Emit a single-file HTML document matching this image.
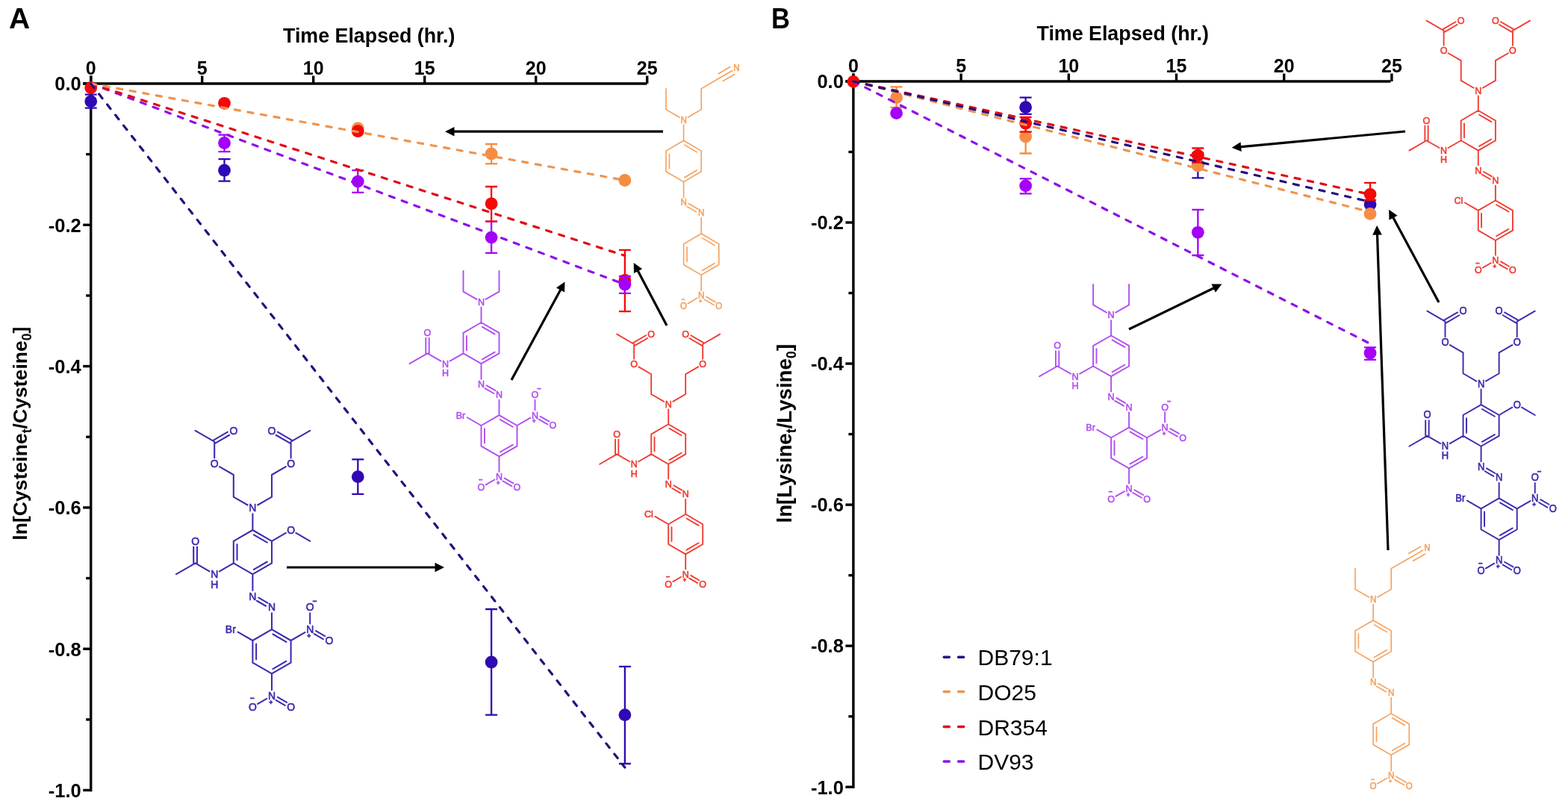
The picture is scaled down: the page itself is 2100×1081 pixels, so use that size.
<!DOCTYPE html><html><head><meta charset="utf-8"><style>html,body{margin:0;padding:0;background:#fff;}svg{display:block;}</style></head><body><svg width="2100" height="1081" viewBox="0 0 2100 1081" font-family='"Liberation Sans", Arial, sans-serif'>
<rect width="2100" height="1081" fill="#fff"/>
<text x="12" y="38" font-size="39" font-weight="bold">A</text>
<text transform="translate(1032.9,38) scale(0.91,1)" font-size="38" font-weight="bold">B</text>
<text x="494.2" y="56.7" font-size="26.8" font-weight="bold" text-anchor="middle">Time Elapsed (hr.)</text>
<text x="1503.7" y="53.7" font-size="26.8" font-weight="bold" text-anchor="middle">Time Elapsed (hr.)</text>
<line x1="111.2" y1="112" x2="866.5" y2="112" stroke="#000" stroke-width="3.4"/>
<line x1="121.7" y1="101.5" x2="121.7" y2="1060.2" stroke="#000" stroke-width="3.4"/>
<line x1="121.7" y1="101.5" x2="121.7" y2="112" stroke="#000" stroke-width="3.4"/>
<text x="121.7" y="99.5" font-size="25" font-weight="bold" text-anchor="middle">0</text>
<line x1="270.7" y1="101.5" x2="270.7" y2="112" stroke="#000" stroke-width="3.4"/>
<text x="270.7" y="99.5" font-size="25" font-weight="bold" text-anchor="middle">5</text>
<line x1="419.7" y1="101.5" x2="419.7" y2="112" stroke="#000" stroke-width="3.4"/>
<text x="419.7" y="99.5" font-size="25" font-weight="bold" text-anchor="middle">10</text>
<line x1="568.7" y1="101.5" x2="568.7" y2="112" stroke="#000" stroke-width="3.4"/>
<text x="568.7" y="99.5" font-size="25" font-weight="bold" text-anchor="middle">15</text>
<line x1="717.7" y1="101.5" x2="717.7" y2="112" stroke="#000" stroke-width="3.4"/>
<text x="717.7" y="99.5" font-size="25" font-weight="bold" text-anchor="middle">20</text>
<line x1="866.7" y1="101.5" x2="866.7" y2="112" stroke="#000" stroke-width="3.4"/>
<text x="866.7" y="99.5" font-size="25" font-weight="bold" text-anchor="middle">25</text>
<line x1="111.2" y1="112" x2="121.7" y2="112" stroke="#000" stroke-width="3.4"/>
<text x="108.7" y="121.3" font-size="25.5" font-weight="bold" text-anchor="end">0.0</text>
<line x1="115.2" y1="206.65" x2="121.7" y2="206.65" stroke="#000" stroke-width="3.4"/>
<line x1="111.2" y1="301.3" x2="121.7" y2="301.3" stroke="#000" stroke-width="3.4"/>
<text x="108.7" y="310.6" font-size="25.5" font-weight="bold" text-anchor="end">-0.2</text>
<line x1="115.2" y1="395.95" x2="121.7" y2="395.95" stroke="#000" stroke-width="3.4"/>
<line x1="111.2" y1="490.6" x2="121.7" y2="490.6" stroke="#000" stroke-width="3.4"/>
<text x="108.7" y="499.9" font-size="25.5" font-weight="bold" text-anchor="end">-0.4</text>
<line x1="115.2" y1="585.25" x2="121.7" y2="585.25" stroke="#000" stroke-width="3.4"/>
<line x1="111.2" y1="679.9" x2="121.7" y2="679.9" stroke="#000" stroke-width="3.4"/>
<text x="108.7" y="689.2" font-size="25.5" font-weight="bold" text-anchor="end">-0.6</text>
<line x1="115.2" y1="774.55" x2="121.7" y2="774.55" stroke="#000" stroke-width="3.4"/>
<line x1="111.2" y1="869.2" x2="121.7" y2="869.2" stroke="#000" stroke-width="3.4"/>
<text x="108.7" y="878.5" font-size="25.5" font-weight="bold" text-anchor="end">-0.8</text>
<line x1="115.2" y1="963.85" x2="121.7" y2="963.85" stroke="#000" stroke-width="3.4"/>
<line x1="111.2" y1="1058.5" x2="121.7" y2="1058.5" stroke="#000" stroke-width="3.4"/>
<text x="108.7" y="1067.8" font-size="25.5" font-weight="bold" text-anchor="end">-1.0</text>
<text transform="translate(36,580.6) rotate(-90)" font-size="26.6" font-weight="bold" text-anchor="middle">ln[Cysteine<tspan font-size="17.56" dy="6.12">t</tspan><tspan dy="-6.12">/Cysteine</tspan><tspan font-size="17.56" dy="6.12">0</tspan><tspan dy="-6.12">]</tspan></text>
<path d="M121.7 126.6V144.6M113.7 126.6H129.7M113.7 144.6H129.7" stroke="#3008b4" stroke-width="2.3" fill="none"/>
<circle cx="121.7" cy="135.8" r="8.4" fill="#3008b4"/>
<path d="M300.5 213.1V242.6M292.5 213.1H308.5M292.5 242.6H308.5" stroke="#3008b4" stroke-width="2.3" fill="none"/>
<circle cx="300.5" cy="228.2" r="8.4" fill="#3008b4"/>
<path d="M479.3 615.3V661.9M471.3 615.3H487.3M471.3 661.9H487.3" stroke="#3008b4" stroke-width="2.3" fill="none"/>
<circle cx="479.3" cy="638.6" r="8.4" fill="#3008b4"/>
<path d="M658.1 816V957.6M650.1 816H666.1M650.1 957.6H666.1" stroke="#3008b4" stroke-width="2.3" fill="none"/>
<circle cx="658.1" cy="887" r="8.4" fill="#3008b4"/>
<path d="M836.9 892.9V1023M828.9 892.9H844.9M828.9 1023H844.9" stroke="#3008b4" stroke-width="2.3" fill="none"/>
<circle cx="836.9" cy="957.6" r="8.4" fill="#3008b4"/>
<circle cx="479.3" cy="172" r="8.4" fill="#f58c42"/>
<path d="M658.1 193V219.3M650.1 193H666.1M650.1 219.3H666.1" stroke="#f58c42" stroke-width="2.3" fill="none"/>
<circle cx="658.1" cy="206" r="8.4" fill="#f58c42"/>
<circle cx="836.9" cy="241.5" r="8.4" fill="#f58c42"/>
<path d="M300.5 180.7V203.2M292.5 180.7H308.5M292.5 203.2H308.5" stroke="#a400fa" stroke-width="2.3" fill="none"/>
<circle cx="300.5" cy="191.5" r="8.4" fill="#a400fa"/>
<path d="M479.3 228.2V257.8M471.3 228.2H487.3M471.3 257.8H487.3" stroke="#a400fa" stroke-width="2.3" fill="none"/>
<circle cx="479.3" cy="243.1" r="8.4" fill="#a400fa"/>
<path d="M658.1 296.6V338.8M650.1 296.6H666.1M650.1 338.8H666.1" stroke="#a400fa" stroke-width="2.3" fill="none"/>
<circle cx="658.1" cy="318.1" r="8.4" fill="#a400fa"/>
<circle cx="121.7" cy="117.5" r="8.4" fill="#f50808"/>
<circle cx="300.5" cy="138.3" r="8.4" fill="#f50808"/>
<circle cx="479.3" cy="175.7" r="8.4" fill="#f50808"/>
<path d="M658.1 250V296.6M650.1 250H666.1M650.1 296.6H666.1" stroke="#f50808" stroke-width="2.3" fill="none"/>
<circle cx="658.1" cy="272.8" r="8.4" fill="#f50808"/>
<path d="M836.9 334.8V417.2M828.9 334.8H844.9M828.9 417.2H844.9" stroke="#f50808" stroke-width="2.3" fill="none"/>
<circle cx="836.9" cy="375.4" r="8.4" fill="#f50808"/>
<path d="M836.9 370V392.8M828.9 370H844.9M828.9 392.8H844.9" stroke="#a400fa" stroke-width="2.3" fill="none"/>
<circle cx="836.9" cy="381" r="8.4" fill="#a400fa"/>
<line x1="121.7" y1="112" x2="836.9" y2="381" stroke="#9010e6" stroke-width="3.2" stroke-dasharray="7.2 10.6" stroke-linecap="round"/>
<line x1="121.7" y1="112" x2="836.9" y2="342.5" stroke="#e00c18" stroke-width="3.2" stroke-dasharray="7.2 10.6" stroke-linecap="round"/>
<line x1="121.7" y1="112" x2="836.9" y2="241.5" stroke="#ef9450" stroke-width="3.2" stroke-dasharray="7.2 10.6" stroke-linecap="round"/>
<line x1="121.7" y1="112" x2="836.9" y2="1028" stroke="#26107e" stroke-width="3.2" stroke-dasharray="7.2 10.6" stroke-linecap="round"/>
<line x1="1132.4" y1="109" x2="1862.5" y2="109" stroke="#000" stroke-width="3.4"/>
<line x1="1142.9" y1="98.5" x2="1142.9" y2="1055.9" stroke="#000" stroke-width="3.4"/>
<line x1="1142.9" y1="98.5" x2="1142.9" y2="109" stroke="#000" stroke-width="3.4"/>
<text x="1142.9" y="96.5" font-size="25" font-weight="bold" text-anchor="middle">0</text>
<line x1="1287.1" y1="98.5" x2="1287.1" y2="109" stroke="#000" stroke-width="3.4"/>
<text x="1287.1" y="96.5" font-size="25" font-weight="bold" text-anchor="middle">5</text>
<line x1="1431.3" y1="98.5" x2="1431.3" y2="109" stroke="#000" stroke-width="3.4"/>
<text x="1431.3" y="96.5" font-size="25" font-weight="bold" text-anchor="middle">10</text>
<line x1="1575.5" y1="98.5" x2="1575.5" y2="109" stroke="#000" stroke-width="3.4"/>
<text x="1575.5" y="96.5" font-size="25" font-weight="bold" text-anchor="middle">15</text>
<line x1="1719.7" y1="98.5" x2="1719.7" y2="109" stroke="#000" stroke-width="3.4"/>
<text x="1719.7" y="96.5" font-size="25" font-weight="bold" text-anchor="middle">20</text>
<line x1="1863.9" y1="98.5" x2="1863.9" y2="109" stroke="#000" stroke-width="3.4"/>
<text x="1863.9" y="96.5" font-size="25" font-weight="bold" text-anchor="middle">25</text>
<line x1="1132.4" y1="109" x2="1142.9" y2="109" stroke="#000" stroke-width="3.4"/>
<text x="1129.9" y="118.3" font-size="25.5" font-weight="bold" text-anchor="end">0.0</text>
<line x1="1136.4" y1="203.52" x2="1142.9" y2="203.52" stroke="#000" stroke-width="3.4"/>
<line x1="1132.4" y1="298.04" x2="1142.9" y2="298.04" stroke="#000" stroke-width="3.4"/>
<text x="1129.9" y="307.34" font-size="25.5" font-weight="bold" text-anchor="end">-0.2</text>
<line x1="1136.4" y1="392.56" x2="1142.9" y2="392.56" stroke="#000" stroke-width="3.4"/>
<line x1="1132.4" y1="487.08" x2="1142.9" y2="487.08" stroke="#000" stroke-width="3.4"/>
<text x="1129.9" y="496.38" font-size="25.5" font-weight="bold" text-anchor="end">-0.4</text>
<line x1="1136.4" y1="581.6" x2="1142.9" y2="581.6" stroke="#000" stroke-width="3.4"/>
<line x1="1132.4" y1="676.12" x2="1142.9" y2="676.12" stroke="#000" stroke-width="3.4"/>
<text x="1129.9" y="685.42" font-size="25.5" font-weight="bold" text-anchor="end">-0.6</text>
<line x1="1136.4" y1="770.64" x2="1142.9" y2="770.64" stroke="#000" stroke-width="3.4"/>
<line x1="1132.4" y1="865.16" x2="1142.9" y2="865.16" stroke="#000" stroke-width="3.4"/>
<text x="1129.9" y="874.46" font-size="25.5" font-weight="bold" text-anchor="end">-0.8</text>
<line x1="1136.4" y1="959.68" x2="1142.9" y2="959.68" stroke="#000" stroke-width="3.4"/>
<line x1="1132.4" y1="1054.2" x2="1142.9" y2="1054.2" stroke="#000" stroke-width="3.4"/>
<text x="1129.9" y="1063.5" font-size="25.5" font-weight="bold" text-anchor="end">-1.0</text>
<text transform="translate(1059.5,580.7) rotate(-90)" font-size="27.6" font-weight="bold" text-anchor="middle">ln[Lysine<tspan font-size="18.22" dy="6.35">t</tspan><tspan dy="-6.35">/Lysine</tspan><tspan font-size="18.22" dy="6.35">0</tspan><tspan dy="-6.35">]</tspan></text>
<path d="M1373.62 130.7V152.9M1365.62 130.7H1381.62M1365.62 152.9H1381.62" stroke="#3008b4" stroke-width="2.3" fill="none"/>
<circle cx="1373.62" cy="143.7" r="8.4" fill="#3008b4"/>
<path d="M1604.34 205V238.3M1596.34 205H1612.34M1596.34 238.3H1612.34" stroke="#3008b4" stroke-width="2.3" fill="none"/>
<circle cx="1604.34" cy="221" r="8.4" fill="#3008b4"/>
<circle cx="1835.06" cy="273.7" r="8.4" fill="#3008b4"/>
<path d="M1200.58 116.3V144M1192.58 116.3H1208.58M1192.58 144H1208.58" stroke="#f58c42" stroke-width="2.3" fill="none"/>
<circle cx="1200.58" cy="130.8" r="8.4" fill="#f58c42"/>
<path d="M1373.62 176.7V205.5M1365.62 176.7H1381.62M1365.62 205.5H1381.62" stroke="#f58c42" stroke-width="2.3" fill="none"/>
<circle cx="1373.62" cy="183" r="8.4" fill="#f58c42"/>
<circle cx="1604.34" cy="222" r="8.4" fill="#f58c42"/>
<circle cx="1835.06" cy="286.4" r="8.4" fill="#f58c42"/>
<circle cx="1200.58" cy="151.6" r="8.4" fill="#a400fa"/>
<path d="M1373.62 239.3V259.3M1365.62 239.3H1381.62M1365.62 259.3H1381.62" stroke="#a400fa" stroke-width="2.3" fill="none"/>
<circle cx="1373.62" cy="248.9" r="8.4" fill="#a400fa"/>
<path d="M1604.34 280.8V342M1596.34 280.8H1612.34M1596.34 342H1612.34" stroke="#a400fa" stroke-width="2.3" fill="none"/>
<circle cx="1604.34" cy="311.3" r="8.4" fill="#a400fa"/>
<path d="M1835.06 465.3V481.8M1827.06 465.3H1843.06M1827.06 481.8H1843.06" stroke="#a400fa" stroke-width="2.3" fill="none"/>
<circle cx="1835.06" cy="473" r="8.4" fill="#a400fa"/>
<circle cx="1142.9" cy="109.4" r="8.4" fill="#f50808"/>
<path d="M1373.62 157V176.7M1365.62 157H1381.62M1365.62 176.7H1381.62" stroke="#f50808" stroke-width="2.3" fill="none"/>
<circle cx="1373.62" cy="165.2" r="8.4" fill="#f50808"/>
<path d="M1604.34 198.5V217.5M1596.34 198.5H1612.34M1596.34 217.5H1612.34" stroke="#f50808" stroke-width="2.3" fill="none"/>
<circle cx="1604.34" cy="208.1" r="8.4" fill="#f50808"/>
<path d="M1835.06 244.9V268M1827.06 244.9H1843.06M1827.06 268H1843.06" stroke="#f50808" stroke-width="2.3" fill="none"/>
<circle cx="1835.06" cy="260.3" r="8.4" fill="#f50808"/>
<line x1="1142.9" y1="109" x2="1835.06" y2="460.4" stroke="#9010e6" stroke-width="3.2" stroke-dasharray="7.2 10.6" stroke-linecap="round"/>
<line x1="1142.9" y1="109" x2="1835.06" y2="283.9" stroke="#ef9450" stroke-width="3.2" stroke-dasharray="7.2 10.6" stroke-linecap="round"/>
<line x1="1142.9" y1="109" x2="1835.06" y2="260.4" stroke="#e00c18" stroke-width="3.2" stroke-dasharray="7.2 10.6" stroke-linecap="round"/>
<line x1="1142.9" y1="109" x2="1835.06" y2="270.4" stroke="#26107e" stroke-width="3.2" stroke-dasharray="7.2 10.6" stroke-linecap="round"/>
<path d="M910 157.21L892 146.64M892 146.64L892 118.92M921.2 157.21L939.2 146.64M939.2 146.64L939.2 118.92M939.2 118.92L962.8 105.06M962.8 105.06L980.8 94.49M968.08 108.65L983.71 99.46M962.24 98.7L977.88 89.52M915.6 188.22L939.2 202.08M916.89 194.12L933.41 203.83M939.2 202.08L939.2 229.8M939.2 229.8L915.6 243.66M933.41 228.05L916.89 237.76M915.6 243.66L892 229.8M892 229.8L892 202.08M896.44 225.64L896.44 206.24M892 202.08L915.6 188.22M915.6 167L915.6 188.22M915.6 243.66L915.6 264.88M920.08 276.58L932.47 283.86M922.33 272.76L934.72 280.04M939.2 291.74L939.2 312.96M939.2 312.96L962.8 326.82M940.49 318.86L957.01 328.57M962.8 326.82L962.8 354.54M962.8 354.54L939.2 368.4M957.01 352.79L940.49 362.5M939.2 368.4L915.6 354.54M915.6 354.54L915.6 326.82M920.04 350.38L920.04 330.98M915.6 326.82L939.2 312.96M939.2 368.4L939.2 389.62M933.6 399.41L921.2 406.69M943.68 401.32L956.07 408.6M945.93 397.5L958.32 404.78" stroke="#f5a05a" stroke-width="1.6" fill="none" stroke-linecap="round"/>
<g fill="#f5a05a" stroke="#f5a05a" stroke-width="0.56" font-size="12.5" text-anchor="middle"><text transform="translate(915.6,164.5) scale(0.93,1)">N</text><text transform="translate(986.4,95.2) scale(0.93,1)">N</text><text transform="translate(915.6,275.38) scale(0.93,1)">N</text><text transform="translate(939.2,289.24) scale(0.93,1)">N</text><text transform="translate(939.2,400.12) scale(0.93,1)">N</text><text transform="translate(938.08,406.36) scale(0.93,1)" font-size="7.65" font-weight="bold">+</text><text transform="translate(915.6,413.98) scale(0.93,1)">O</text><text transform="translate(914.98,403.86) scale(0.93,1)" font-size="9" font-weight="bold">−</text><text transform="translate(962.8,413.98) scale(0.93,1)">O</text></g>
<path d="M889.13 537.87L872.2 528M872.2 528L872.2 501.2M872.2 501.2L855.27 491.33M849.2 480.78L849.2 461M849.2 461L826.2 447.6M850.28 462.85L867.21 452.99M848.12 459.15L865.06 449.28M901.27 537.87L918.2 528M918.2 528L918.2 501.2M918.2 501.2L935.13 491.33M941.2 480.78L941.2 461M941.2 461L964.2 447.6M942.28 459.15L925.34 449.28M940.12 462.85L923.19 452.99M895.2 568.2L918.2 581.6M896.49 573.92L912.59 583.3M918.2 581.6L918.2 608.4M918.2 608.4L895.2 621.8M912.59 606.7L896.49 616.08M895.2 621.8L872.2 608.4M872.2 608.4L872.2 581.6M876.49 604.38L876.49 585.62M872.2 581.6L895.2 568.2M895.2 548.42L895.2 568.2M872.2 608.4L855.27 618.27M843.13 618.27L826.2 608.4M828.34 608.4L828.34 588.62M824.06 608.4L824.06 588.62M826.2 608.4L803.2 621.8M895.2 621.8L895.2 641.58M900.19 653.99L911.06 660.32M902.34 650.28L913.21 656.61M918.2 669.02L918.2 688.8M918.2 688.8L941.2 702.2M919.49 694.52L935.59 703.9M941.2 702.2L941.2 729M941.2 729L918.2 742.4M935.59 727.3L919.49 736.68M918.2 742.4L895.2 729M895.2 729L895.2 702.2M899.49 724.98L899.49 706.22M895.2 702.2L918.2 688.8M895.2 702.2L877.45 691.86M918.2 742.4L918.2 762.18M912.13 772.73L901.27 779.07M923.19 774.59L934.06 780.92M925.34 770.88L936.21 777.21" stroke="#f03c32" stroke-width="1.88" fill="none" stroke-linecap="round"/>
<g fill="#f03c32" stroke="#f03c32" stroke-width="0.61" font-size="13.5" text-anchor="middle"><text transform="translate(895.2,545.72) scale(0.93,1)">N</text><text transform="translate(849.2,492.12) scale(0.93,1)">O</text><text transform="translate(872.2,451.92) scale(0.93,1)">O</text><text transform="translate(941.2,492.12) scale(0.93,1)">O</text><text transform="translate(918.2,451.92) scale(0.93,1)">O</text><text transform="translate(849.2,626.12) scale(0.93,1)">N</text><text transform="translate(849.2,638.54) scale(0.93,1)">H</text><text transform="translate(826.2,585.92) scale(0.93,1)">O</text><text transform="translate(895.2,652.92) scale(0.93,1)">N</text><text transform="translate(918.2,666.32) scale(0.93,1)">N</text><text transform="translate(874.9,693.12) scale(0.93,1)" text-anchor="end">Cl</text><text transform="translate(918.2,773.52) scale(0.93,1)">N</text><text transform="translate(916.99,780.26) scale(0.93,1)" font-size="8.26" font-weight="bold">+</text><text transform="translate(895.2,786.92) scale(0.93,1)">O</text><text transform="translate(894.53,775.99) scale(0.93,1)" font-size="9.72" font-weight="bold">−</text><text transform="translate(941.2,786.92) scale(0.93,1)">O</text></g>
<path d="M638.41 400.9L620.5 390.6M620.5 390.6L620.5 363M650.59 400.9L668.5 390.6M668.5 390.6L668.5 363M644.5 432L668.5 445.8M645.9 437.9L662.7 447.56M668.5 445.8L668.5 473.4M668.5 473.4L644.5 487.2M662.7 471.64L645.9 481.3M644.5 487.2L620.5 473.4M620.5 473.4L620.5 445.8M624.92 469.26L624.92 449.94M620.5 445.8L644.5 432M644.5 411.42L644.5 432M620.5 473.4L602.59 483.7M590.41 483.7L572.5 473.4M574.71 473.4L574.71 452.82M570.29 473.4L570.29 452.82M572.5 473.4L548.5 487.2M644.5 487.2L644.5 507.78M649.49 520.21L661.31 527.01M651.69 516.39L663.51 523.19M668.5 535.62L668.5 556.2M668.5 556.2L692.5 570M669.9 562.1L686.7 571.76M692.5 570L692.5 597.6M692.5 597.6L668.5 611.4M686.7 595.84L669.9 605.5M668.5 611.4L644.5 597.6M644.5 597.6L644.5 570M648.92 593.46L648.92 574.14M644.5 570L668.5 556.2M644.5 570L625.77 559.23M692.5 570L710.41 559.7M716.5 549.18L716.5 535.62M721.49 561.61L733.31 568.41M723.69 557.79L735.51 564.59M668.5 611.4L668.5 631.98M662.41 642.5L650.59 649.3M673.49 644.41L685.31 651.21M675.69 640.59L687.51 647.39" stroke="#b050f0" stroke-width="1.93" fill="none" stroke-linecap="round"/>
<g fill="#b050f0" stroke="#b050f0" stroke-width="0.61" font-size="13.5" text-anchor="middle"><text transform="translate(644.5,408.72) scale(0.93,1)">N</text><text transform="translate(596.5,491.52) scale(0.93,1)">N</text><text transform="translate(596.5,503.94) scale(0.93,1)">H</text><text transform="translate(572.5,450.12) scale(0.93,1)">O</text><text transform="translate(644.5,519.12) scale(0.93,1)">N</text><text transform="translate(668.5,532.92) scale(0.93,1)">N</text><text transform="translate(623.2,560.52) scale(0.93,1)" text-anchor="end">Br</text><text transform="translate(716.5,560.52) scale(0.93,1)">N</text><text transform="translate(715.28,567.26) scale(0.93,1)" font-size="8.26" font-weight="bold">+</text><text transform="translate(716.5,532.92) scale(0.93,1)">O</text><text transform="translate(722.17,524.15) scale(0.93,1)" font-size="9.72" font-weight="bold">−</text><text transform="translate(740.5,574.32) scale(0.93,1)">O</text><text transform="translate(668.5,643.32) scale(0.93,1)">N</text><text transform="translate(667.28,650.06) scale(0.93,1)" font-size="8.26" font-weight="bold">+</text><text transform="translate(644.5,657.12) scale(0.93,1)">O</text><text transform="translate(643.83,646.19) scale(0.93,1)" font-size="9.72" font-weight="bold">−</text><text transform="translate(692.5,657.12) scale(0.93,1)">O</text></g>
<path d="M331.65 676.5L312.8 665.6M312.8 665.6L312.8 636M312.8 636L293.95 625.1M287.2 613.4L287.2 591.6M287.2 591.6L261.6 576.8M288.39 593.65L307.23 582.75M286.01 589.55L304.86 578.65M345.15 676.5L364 665.6M364 665.6L364 636M364 636L382.85 625.1M389.6 613.4L389.6 591.6M389.6 591.6L415.2 576.8M390.79 589.55L371.94 578.65M388.41 593.65L369.57 582.75M338.4 710L364 724.8M339.87 716.32L357.79 726.68M364 724.8L364 754.4M364 754.4L338.4 769.2M357.79 752.52L339.87 762.88M338.4 769.2L312.8 754.4M312.8 754.4L312.8 724.8M317.54 749.96L317.54 729.24M312.8 724.8L338.4 710M338.4 688.2L338.4 710M364 724.8L382.85 713.9M396.35 713.9L415.2 724.8M312.8 754.4L293.95 765.3M280.45 765.3L261.6 754.4M263.97 754.4L263.97 732.6M259.23 754.4L259.23 732.6M261.6 754.4L236 769.2M338.4 769.2L338.4 791M343.97 804.75L356.06 811.75M346.34 800.65L358.43 807.65M364 821.4L364 843.2M364 843.2L389.6 858M365.47 849.52L383.39 859.88M389.6 858L389.6 887.6M389.6 887.6L364 902.4M383.39 885.72L365.47 896.08M364 902.4L338.4 887.6M338.4 887.6L338.4 858M343.14 883.16L343.14 862.44M338.4 858L364 843.2M338.4 858L318.64 846.58M389.6 858L408.45 847.1M415.2 835.4L415.2 821.4M420.77 849.15L432.86 856.15M423.14 845.05L435.23 852.05M364 902.4L364 924.2M357.25 935.9L345.15 942.9M369.57 937.95L381.66 944.95M371.94 933.85L384.03 940.85" stroke="#3b2db0" stroke-width="2.07" fill="none" stroke-linecap="round"/>
<g fill="#3b2db0" stroke="#3b2db0" stroke-width="0.67" font-size="15" text-anchor="middle"><text transform="translate(338.4,685.2) scale(0.93,1)">N</text><text transform="translate(287.2,626) scale(0.93,1)">O</text><text transform="translate(312.8,581.6) scale(0.93,1)">O</text><text transform="translate(389.6,626) scale(0.93,1)">O</text><text transform="translate(364,581.6) scale(0.93,1)">O</text><text transform="translate(389.6,714.8) scale(0.93,1)">O</text><text transform="translate(287.2,774) scale(0.93,1)">N</text><text transform="translate(287.2,787.8) scale(0.93,1)">H</text><text transform="translate(261.6,729.6) scale(0.93,1)">O</text><text transform="translate(338.4,803.6) scale(0.93,1)">N</text><text transform="translate(364,818.4) scale(0.93,1)">N</text><text transform="translate(315.8,848) scale(0.93,1)" text-anchor="end">Br</text><text transform="translate(415.2,848) scale(0.93,1)">N</text><text transform="translate(413.85,855.49) scale(0.93,1)" font-size="9.18" font-weight="bold">+</text><text transform="translate(415.2,818.4) scale(0.93,1)">O</text><text transform="translate(421.5,808.66) scale(0.93,1)" font-size="10.8" font-weight="bold">−</text><text transform="translate(440.8,862.8) scale(0.93,1)">O</text><text transform="translate(364,936.8) scale(0.93,1)">N</text><text transform="translate(362.65,944.29) scale(0.93,1)" font-size="9.18" font-weight="bold">+</text><text transform="translate(338.4,951.6) scale(0.93,1)">O</text><text transform="translate(337.65,939.46) scale(0.93,1)" font-size="10.8" font-weight="bold">−</text><text transform="translate(389.6,951.6) scale(0.93,1)">O</text></g>
<path d="M1973.73 117.78L1956.7 107.92M1956.7 107.92L1956.7 81.16M1956.7 81.16L1939.67 71.3M1933.6 60.76L1933.6 41.02M1933.6 41.02L1910.5 27.64M1934.67 42.87L1951.7 33.01M1932.53 39.17L1949.55 29.31M1985.87 117.78L2002.9 107.92M2002.9 107.92L2002.9 81.16M2002.9 81.16L2019.93 71.3M2026 60.76L2026 41.02M2026 41.02L2049.1 27.64M2027.07 39.17L2010.05 29.31M2024.93 42.87L2007.9 33.01M1979.8 148.06L2002.9 161.44M1981.12 153.77L1997.29 163.14M2002.9 161.44L2002.9 188.2M2002.9 188.2L1979.8 201.58M1997.29 186.5L1981.12 195.87M1979.8 201.58L1956.7 188.2M1956.7 188.2L1956.7 161.44M1960.98 184.19L1960.98 165.45M1956.7 161.44L1979.8 148.06M1979.8 128.32L1979.8 148.06M1956.7 188.2L1939.67 198.06M1927.53 198.06L1910.5 188.2M1912.64 188.2L1912.64 168.46M1908.36 188.2L1908.36 168.46M1910.5 188.2L1887.4 201.58M1979.8 201.58L1979.8 221.32M1984.8 233.71L1995.75 240.05M1986.95 230.01L1997.9 236.35M2002.9 248.74L2002.9 268.48M2002.9 268.48L2026 281.86M2004.22 274.19L2020.39 283.56M2026 281.86L2026 308.62M2026 308.62L2002.9 322M2020.39 306.92L2004.22 316.29M2002.9 322L1979.8 308.62M1979.8 308.62L1979.8 281.86M1984.08 304.61L1984.08 285.87M1979.8 281.86L2002.9 268.48M1979.8 281.86L1961.96 271.52M2002.9 322L2002.9 341.74M1996.83 352.28L1985.87 358.62M2007.9 354.13L2018.85 360.47M2010.05 350.43L2021 356.77" stroke="#f03c32" stroke-width="1.87" fill="none" stroke-linecap="round"/>
<g fill="#f03c32" stroke="#f03c32" stroke-width="0.61" font-size="13.5" text-anchor="middle"><text transform="translate(1979.8,125.62) scale(0.93,1)">N</text><text transform="translate(1933.6,72.1) scale(0.93,1)">O</text><text transform="translate(1956.7,31.96) scale(0.93,1)">O</text><text transform="translate(2026,72.1) scale(0.93,1)">O</text><text transform="translate(2002.9,31.96) scale(0.93,1)">O</text><text transform="translate(1933.6,205.9) scale(0.93,1)">N</text><text transform="translate(1933.6,218.32) scale(0.93,1)">H</text><text transform="translate(1910.5,165.76) scale(0.93,1)">O</text><text transform="translate(1979.8,232.66) scale(0.93,1)">N</text><text transform="translate(2002.9,246.04) scale(0.93,1)">N</text><text transform="translate(1959.4,272.8) scale(0.93,1)" text-anchor="end">Cl</text><text transform="translate(2002.9,353.08) scale(0.93,1)">N</text><text transform="translate(2001.68,359.82) scale(0.93,1)" font-size="8.26" font-weight="bold">+</text><text transform="translate(1979.8,366.46) scale(0.93,1)">O</text><text transform="translate(1979.12,355.53) scale(0.93,1)" font-size="9.72" font-weight="bold">−</text><text transform="translate(2026,366.46) scale(0.93,1)">O</text></g>
<path d="M1482 418.62L1464.1 408.42M1464.1 408.42L1464.1 381.06M1494.2 418.62L1512.1 408.42M1512.1 408.42L1512.1 381.06M1488.1 449.46L1512.1 463.14M1489.53 455.32L1506.33 464.89M1512.1 463.14L1512.1 490.5M1512.1 490.5L1488.1 504.18M1506.33 488.75L1489.53 498.32M1488.1 504.18L1464.1 490.5M1464.1 490.5L1464.1 463.14M1468.48 486.4L1468.48 467.24M1464.1 463.14L1488.1 449.46M1488.1 429.12L1488.1 449.46M1464.1 490.5L1446.2 500.7M1434 500.7L1416.1 490.5M1418.29 490.5L1418.29 470.16M1413.91 490.5L1413.91 470.16M1416.1 490.5L1392.1 504.18M1488.1 504.18L1488.1 524.52M1493.11 536.92L1504.92 543.65M1495.28 533.11L1507.09 539.84M1512.1 552.24L1512.1 572.58M1512.1 572.58L1536.1 586.26M1513.53 578.44L1530.33 588.01M1536.1 586.26L1536.1 613.62M1536.1 613.62L1512.1 627.3M1530.33 611.87L1513.53 621.44M1512.1 627.3L1488.1 613.62M1488.1 613.62L1488.1 586.26M1492.48 609.52L1492.48 590.36M1488.1 586.26L1512.1 572.58M1488.1 586.26L1469.38 575.59M1536.1 586.26L1554 576.06M1560.1 565.56L1560.1 552.24M1565.11 577.96L1576.92 584.69M1567.28 574.15L1579.09 580.88M1512.1 627.3L1512.1 647.64M1506 658.14L1494.2 664.86M1517.11 660.04L1528.92 666.77M1519.28 656.23L1531.09 662.96" stroke="#b050f0" stroke-width="1.92" fill="none" stroke-linecap="round"/>
<g fill="#b050f0" stroke="#b050f0" stroke-width="0.61" font-size="13.5" text-anchor="middle"><text transform="translate(1488.1,426.42) scale(0.93,1)">N</text><text transform="translate(1440.1,508.5) scale(0.93,1)">N</text><text transform="translate(1440.1,520.92) scale(0.93,1)">H</text><text transform="translate(1416.1,467.46) scale(0.93,1)">O</text><text transform="translate(1488.1,535.86) scale(0.93,1)">N</text><text transform="translate(1512.1,549.54) scale(0.93,1)">N</text><text transform="translate(1466.8,576.9) scale(0.93,1)" text-anchor="end">Br</text><text transform="translate(1560.1,576.9) scale(0.93,1)">N</text><text transform="translate(1558.88,583.64) scale(0.93,1)" font-size="8.26" font-weight="bold">+</text><text transform="translate(1560.1,549.54) scale(0.93,1)">O</text><text transform="translate(1565.77,540.77) scale(0.93,1)" font-size="9.72" font-weight="bold">−</text><text transform="translate(1584.1,590.58) scale(0.93,1)">O</text><text transform="translate(1512.1,658.98) scale(0.93,1)">N</text><text transform="translate(1510.88,665.72) scale(0.93,1)" font-size="8.26" font-weight="bold">+</text><text transform="translate(1488.1,672.66) scale(0.93,1)">O</text><text transform="translate(1487.42,661.73) scale(0.93,1)" font-size="9.72" font-weight="bold">−</text><text transform="translate(1536.1,672.66) scale(0.93,1)">O</text></g>
<path d="M1977.3 510.55L1959.55 500.27M1959.55 500.27L1959.55 472.41M1959.55 472.41L1941.8 462.13M1935.5 451.2L1935.5 430.62M1935.5 430.62L1911.45 416.69M1936.62 432.55L1954.37 422.27M1934.38 428.69L1952.13 418.41M1989.9 510.55L2007.65 500.27M2007.65 500.27L2007.65 472.41M2007.65 472.41L2025.4 462.13M2031.7 451.2L2031.7 430.62M2031.7 430.62L2055.75 416.69M2032.82 428.69L2015.07 418.41M2030.58 432.55L2012.83 422.27M1983.6 542.06L2007.65 555.99M1984.97 548.01L2001.81 557.76M2007.65 555.99L2007.65 583.85M2007.65 583.85L1983.6 597.78M2001.81 582.08L1984.97 591.83M1983.6 597.78L1959.55 583.85M1959.55 583.85L1959.55 555.99M1964.01 579.67L1964.01 560.17M1959.55 555.99L1983.6 542.06M1983.6 521.48L1983.6 542.06M2007.65 555.99L2025.4 545.71M2038 545.71L2055.75 555.99M1959.55 583.85L1941.8 594.13M1929.2 594.13L1911.45 583.85M1913.68 583.85L1913.68 563.27M1909.22 583.85L1909.22 563.27M1911.45 583.85L1887.4 597.78M1983.6 597.78L1983.6 618.36M1988.78 631.22L2000.23 637.85M1991.02 627.36L2002.47 633.99M2007.65 646.85L2007.65 667.43M2007.65 667.43L2031.7 681.36M2009.02 673.38L2025.86 683.13M2031.7 681.36L2031.7 709.22M2031.7 709.22L2007.65 723.15M2025.86 707.45L2009.02 717.2M2007.65 723.15L1983.6 709.22M1983.6 709.22L1983.6 681.36M1988.06 705.04L1988.06 685.54M1983.6 681.36L2007.65 667.43M1983.6 681.36L1965 670.59M2031.7 681.36L2049.45 671.08M2055.75 660.15L2055.75 646.85M2060.93 673.01L2072.38 679.64M2063.17 669.15L2074.62 675.78M2007.65 723.15L2007.65 743.73M2001.35 754.66L1989.9 761.29M2012.83 756.59L2024.28 763.22M2015.07 752.73L2026.52 759.36" stroke="#3b2db0" stroke-width="1.95" fill="none" stroke-linecap="round"/>
<g fill="#3b2db0" stroke="#3b2db0" stroke-width="0.63" font-size="14" text-anchor="middle"><text transform="translate(1983.6,518.68) scale(0.93,1)">N</text><text transform="translate(1935.5,462.96) scale(0.93,1)">O</text><text transform="translate(1959.55,421.17) scale(0.93,1)">O</text><text transform="translate(2031.7,462.96) scale(0.93,1)">O</text><text transform="translate(2007.65,421.17) scale(0.93,1)">O</text><text transform="translate(2031.7,546.54) scale(0.93,1)">O</text><text transform="translate(1935.5,602.26) scale(0.93,1)">N</text><text transform="translate(1935.5,615.14) scale(0.93,1)">H</text><text transform="translate(1911.45,560.47) scale(0.93,1)">O</text><text transform="translate(1983.6,630.12) scale(0.93,1)">N</text><text transform="translate(2007.65,644.05) scale(0.93,1)">N</text><text transform="translate(1962.35,671.91) scale(0.93,1)" text-anchor="end">Br</text><text transform="translate(2055.75,671.91) scale(0.93,1)">N</text><text transform="translate(2054.49,678.9) scale(0.93,1)" font-size="8.57" font-weight="bold">+</text><text transform="translate(2055.75,644.05) scale(0.93,1)">O</text><text transform="translate(2061.63,634.96) scale(0.93,1)" font-size="10.08" font-weight="bold">−</text><text transform="translate(2079.8,685.84) scale(0.93,1)">O</text><text transform="translate(2007.65,755.49) scale(0.93,1)">N</text><text transform="translate(2006.39,762.48) scale(0.93,1)" font-size="8.57" font-weight="bold">+</text><text transform="translate(1983.6,769.42) scale(0.93,1)">O</text><text transform="translate(1982.9,758.09) scale(0.93,1)" font-size="10.08" font-weight="bold">−</text><text transform="translate(2031.7,769.42) scale(0.93,1)">O</text></g>
<path d="M1833.47 799.96L1815 789.33M1815 789.33L1815 761.58M1844.73 799.96L1863.2 789.33M1863.2 789.33L1863.2 761.58M1863.2 761.58L1887.3 747.7M1887.3 747.7L1905.77 737.07M1892.59 751.31L1908.65 742.07M1886.83 741.31L1902.89 732.07M1839.1 830.95L1863.2 844.83M1840.5 836.88L1857.37 846.59M1863.2 844.83L1863.2 872.58M1863.2 872.58L1839.1 886.45M1857.37 870.81L1840.5 880.52M1839.1 886.45L1815 872.58M1815 872.58L1815 844.83M1819.44 868.41L1819.44 848.99M1815 844.83L1839.1 830.95M1839.1 809.7L1839.1 830.95M1839.1 886.45L1839.1 907.7M1843.63 919.37L1856.46 926.76M1845.84 915.52L1858.67 922.91M1863.2 934.58L1863.2 955.83M1863.2 955.83L1887.3 969.7M1864.6 961.75L1881.47 971.47M1887.3 969.7L1887.3 997.45M1887.3 997.45L1863.2 1011.33M1881.47 995.68L1864.6 1005.4M1863.2 1011.33L1839.1 997.45M1839.1 997.45L1839.1 969.7M1843.54 993.29L1843.54 973.86M1839.1 969.7L1863.2 955.83M1863.2 1011.33L1863.2 1032.58M1857.57 1042.32L1844.73 1049.71M1867.73 1044.24L1880.56 1051.63M1869.94 1040.39L1882.77 1047.78" stroke="#f5a05a" stroke-width="1.6" fill="none" stroke-linecap="round"/>
<g fill="#f5a05a" stroke="#f5a05a" stroke-width="0.56" font-size="12.5" text-anchor="middle"><text transform="translate(1839.1,807.2) scale(0.93,1)">N</text><text transform="translate(1911.4,737.83) scale(0.93,1)">N</text><text transform="translate(1839.1,918.2) scale(0.93,1)">N</text><text transform="translate(1863.2,932.08) scale(0.93,1)">N</text><text transform="translate(1863.2,1043.08) scale(0.93,1)">N</text><text transform="translate(1862.07,1049.32) scale(0.93,1)" font-size="7.65" font-weight="bold">+</text><text transform="translate(1839.1,1056.95) scale(0.93,1)">O</text><text transform="translate(1838.47,1046.83) scale(0.93,1)" font-size="9" font-weight="bold">−</text><text transform="translate(1887.3,1056.95) scale(0.93,1)">O</text></g>
<line x1="888" y1="176.2" x2="606.5" y2="176.2" stroke="#000" stroke-width="3.2"/>
<path d="M596 176.2L608.5 169.9L608.5 182.5Z" fill="#000"/>
<line x1="685" y1="509" x2="751.48" y2="386.82" stroke="#000" stroke-width="3.2"/>
<path d="M756.5 377.6L756.06 391.59L744.99 385.57Z" fill="#000"/>
<line x1="893" y1="436" x2="853.6" y2="361.39" stroke="#000" stroke-width="3.2"/>
<path d="M848.7 352.1L860.11 360.21L848.97 366.1Z" fill="#000"/>
<line x1="384" y1="760" x2="584.5" y2="760" stroke="#000" stroke-width="3.2"/>
<path d="M595 760L582.5 766.3L582.5 753.7Z" fill="#000"/>
<line x1="1882" y1="176" x2="1660.15" y2="196.82" stroke="#000" stroke-width="3.2"/>
<path d="M1649.7 197.8L1661.56 190.36L1662.73 202.9Z" fill="#000"/>
<line x1="1512" y1="441" x2="1626.95" y2="385.19" stroke="#000" stroke-width="3.2"/>
<path d="M1636.4 380.6L1627.91 391.73L1622.4 380.39Z" fill="#000"/>
<line x1="1927" y1="405" x2="1865.08" y2="290.04" stroke="#000" stroke-width="3.2"/>
<path d="M1860.1 280.8L1871.57 288.82L1860.48 294.79Z" fill="#000"/>
<line x1="1859" y1="737" x2="1844.46" y2="312.59" stroke="#000" stroke-width="3.2"/>
<path d="M1844.1 302.1L1850.82 314.38L1838.23 314.81Z" fill="#000"/>
<path d="M1264.2 880.2H1271.4M1283.5 880.2H1290.7" stroke="#26107e" stroke-width="3.4" stroke-linecap="round"/>
<text x="1309.5" y="891.2" font-size="30">DB79:1</text>
<path d="M1264.2 926.5H1271.4M1283.5 926.5H1290.7" stroke="#ef9450" stroke-width="3.4" stroke-linecap="round"/>
<text x="1309.5" y="937.5" font-size="30">DO25</text>
<path d="M1264.2 973.5H1271.4M1283.5 973.5H1290.7" stroke="#e00c18" stroke-width="3.4" stroke-linecap="round"/>
<text x="1309.5" y="984.5" font-size="30">DR354</text>
<path d="M1264.2 1020H1271.4M1283.5 1020H1290.7" stroke="#9010e6" stroke-width="3.4" stroke-linecap="round"/>
<text x="1309.5" y="1031" font-size="30">DV93</text>
</svg></body></html>
